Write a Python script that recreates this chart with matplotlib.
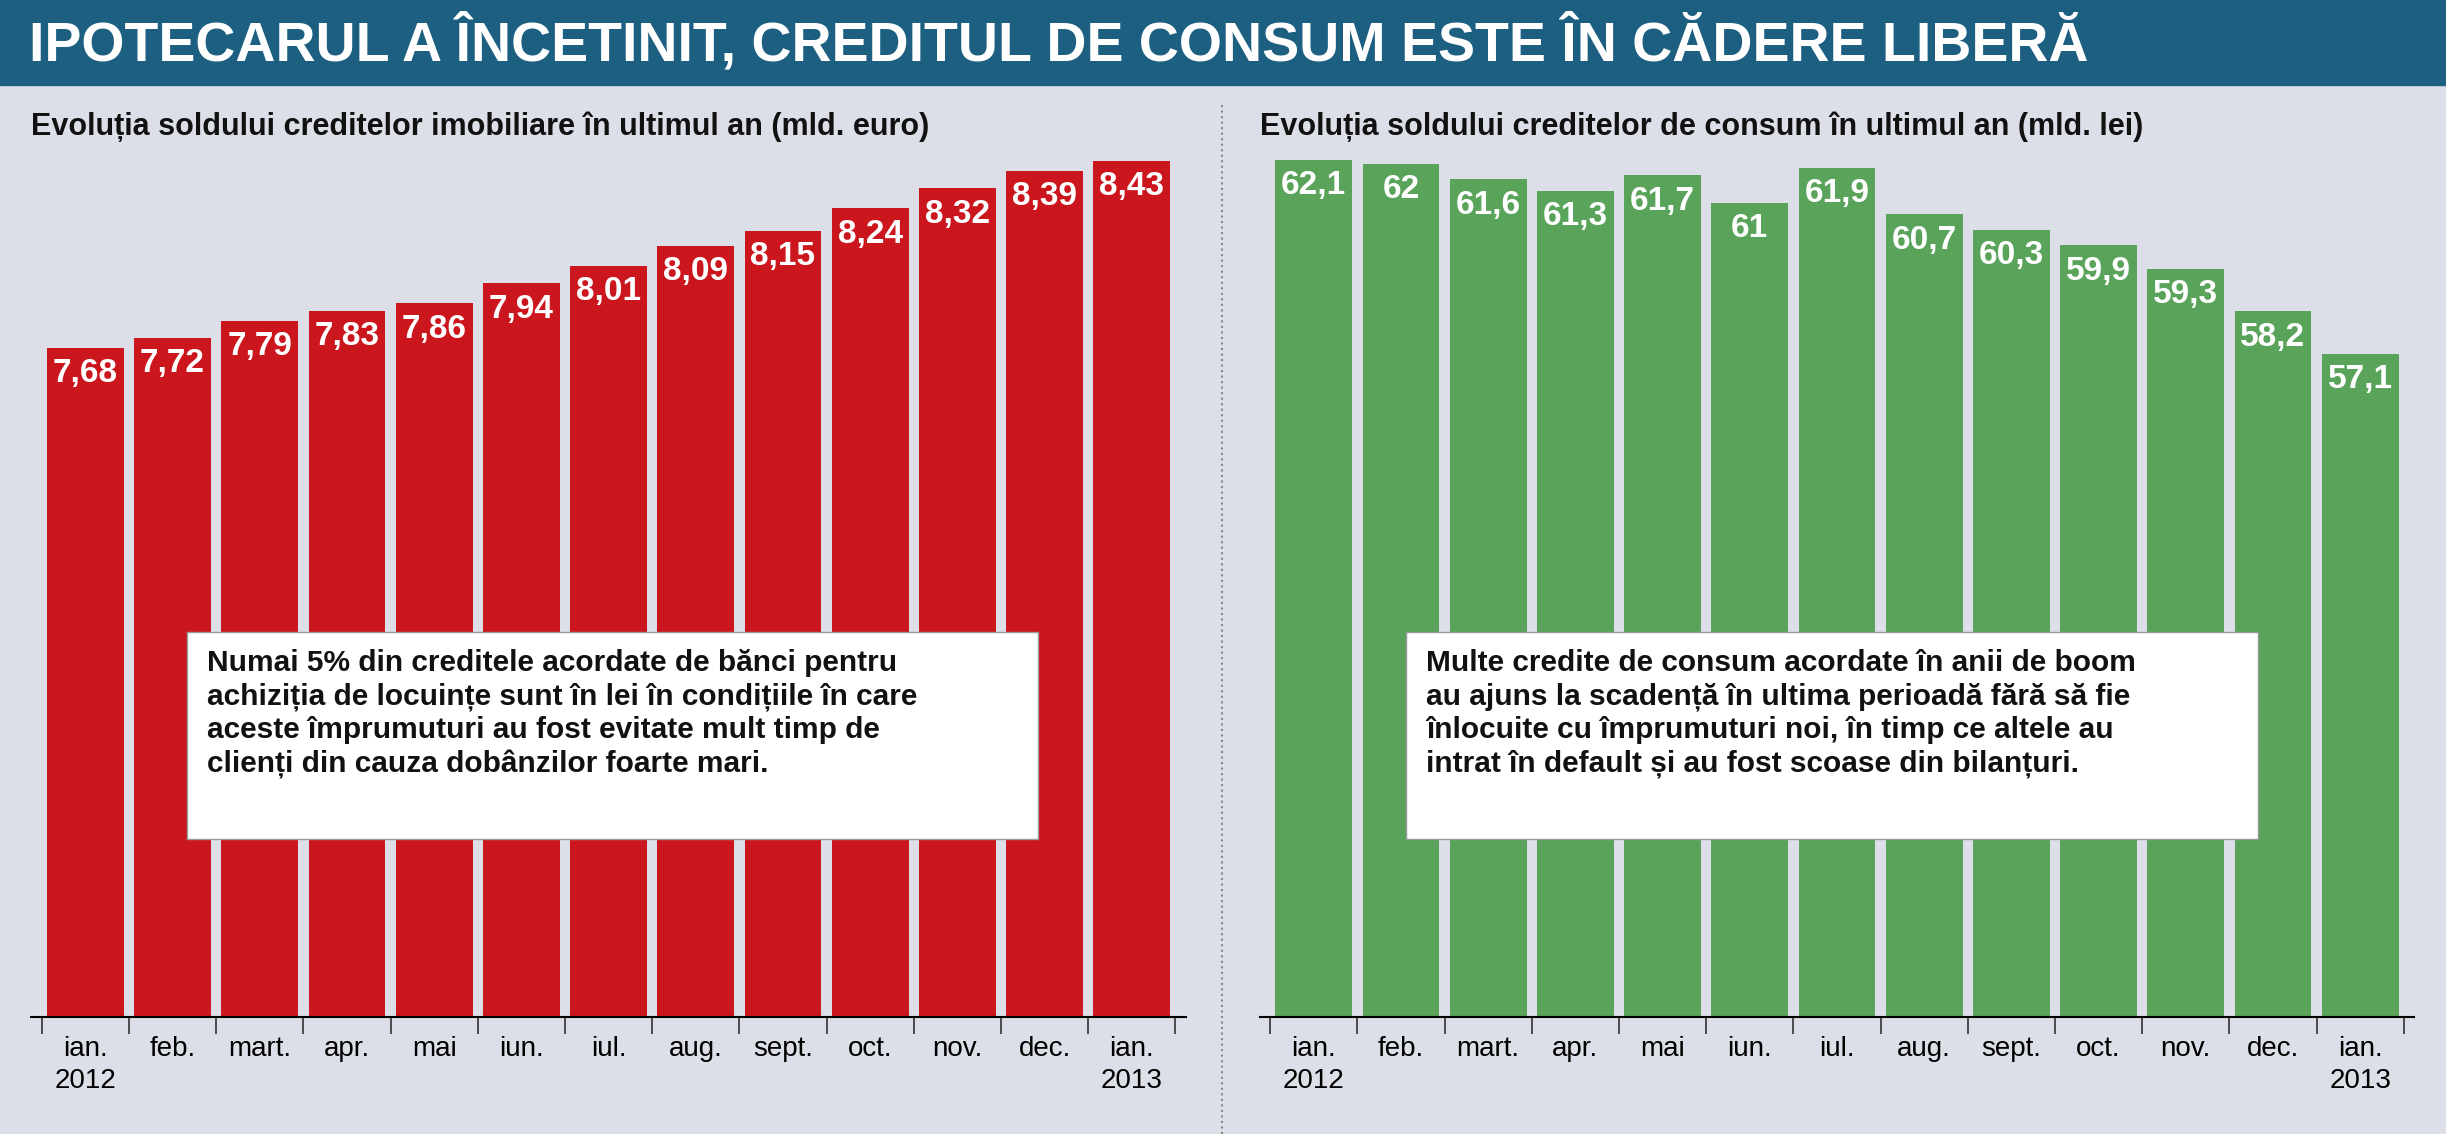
import matplotlib
matplotlib.use("Agg")
import matplotlib.pyplot as plt
from matplotlib.patches import Rectangle
from matplotlib.lines import Line2D

months = ["ian.\n2012", "feb.", "mart.", "apr.", "mai", "iun.", "iul.", "aug.", "sept.", "oct.", "nov.", "dec.", "ian.\n2013"]
imobiliare = [7.68, 7.72, 7.79, 7.83, 7.86, 7.94, 8.01, 8.09, 8.15, 8.24, 8.32, 8.39, 8.43]
consum = [62.1, 62.0, 61.6, 61.3, 61.7, 61.0, 61.9, 60.7, 60.3, 59.9, 59.3, 58.2, 57.1]

FONT = ["Liberation Sans Narrow", "Liberation Sans", "DejaVu Sans"]
plt.rcParams['font.family'] = FONT
BG = "#dcdfe8"

fig = plt.figure(figsize=(24.46, 11.34), dpi=100, facecolor=BG)
fig.patches.append(Rectangle((0, 0.925), 1, 0.075, transform=fig.transFigure, color="#1c5f80", zorder=0))
fig.text(0.012, 0.962, "IPOTECARUL A ÎNCETINIT, CREDITUL DE CONSUM ESTE ÎN CĂDERE LIBERĂ",
         color="white", fontsize=40, fontweight="bold", va="center", ha="left")
fig.lines.append(Line2D([0.4995, 0.4995], [0.0, 0.91], transform=fig.transFigure, color="#888888", ls=":", lw=1.5))

def fmt(v):
    s = f"{v:.2f}" if v < 20 else (f"{v:.1f}" if v != int(v) else f"{int(v)}")
    return s.replace(".", ",")

def panel(rect, vals, ylim, color, title, note, box):
    ax = fig.add_axes(rect, facecolor=BG)
    x = range(len(vals))
    bars = ax.bar(x, vals, width=0.88, color=color, zorder=2)
    ax.set_ylim(*ylim)
    ax.set_xlim(-0.62, len(vals) - 0.38)
    for xi, v in zip(x, vals):
        ax.text(xi, v - (ylim[1]-ylim[0]) * 0.012, fmt(v), ha="center", va="top", color="white",
                fontsize=24, fontweight="bold", zorder=3)
    ax.set_xticks([i - 0.5 for i in range(len(vals) + 1)], minor=False)
    ax.set_xticklabels([])
    ax.tick_params(axis="x", length=12, width=1.2, color="#333333")
    ax.set_xticks(list(x), minor=True)
    ax.set_xticklabels(months, minor=True, fontsize=20, linespacing=1.3)
    ax.tick_params(axis="x", which="minor", length=0, pad=14)
    ax.set_yticks([])
    for s in ["top", "right", "left"]:
        ax.spines[s].set_visible(False)
    ax.spines["bottom"].set_linewidth(1.5)
    fig.text(rect[0], 0.888, title, fontsize=22, fontweight="bold", ha="left", va="center", color="#111111")
    fig.text(box[0] + 0.008, box[1] + box[3] - 0.015, note, fontsize=21.5, fontweight="bold",
             ha="left", va="top", linespacing=1.25, color="#111111",
             )
    fig.patches.append(Rectangle((box[0], box[1]), box[2], box[3], transform=fig.transFigure,
                                 facecolor="white", edgecolor="#999999", zorder=1))

panel([0.0128, 0.1032, 0.472, 0.766], imobiliare, (5.0, 8.48), "#cc161e",
      "Evoluția soldului creditelor imobiliare în ultimul an (mld. euro)",
      "Numai 5% din creditele acordate de bănci pentru\nachiziția de locuințe sunt în lei în condițiile în care\naceste împrumuturi au fost evitate mult timp de\nclienți din cauza dobânzilor foarte mari.",
      (0.0765, 0.26, 0.348, 0.183))
panel([0.515, 0.1032, 0.472, 0.766], consum, (40.0, 62.4), "#59a35a",
      "Evoluția soldului creditelor de consum în ultimul an (mld. lei)",
      "Multe credite de consum acordate în anii de boom\nau ajuns la scadență în ultima perioadă fără să fie\nînlocuite cu împrumuturi noi, în timp ce altele au\nintrat în default și au fost scoase din bilanțuri.",
      (0.575, 0.26, 0.348, 0.183))

fig.savefig("out.png", dpi=100, facecolor=BG)
